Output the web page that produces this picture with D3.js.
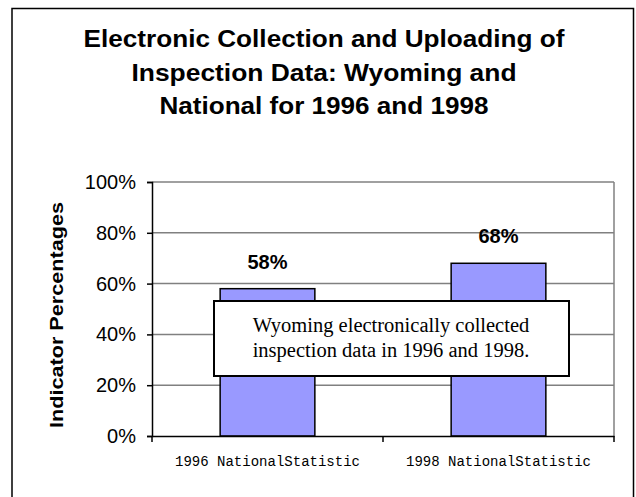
<!DOCTYPE html>
<html>
<head>
<meta charset="utf-8">
<script src="https://d3js.org/d3.v7.min.js"></script>
<style>
  body { margin: 0; background: #fff; }
</style>
</head>
<body>
<div id="chart"></div>
<script>
// data
var categories = ["1996 NationalStatistic", "1998 NationalStatistic"];
var values = [0.58, 0.68];
var valueLabels = ["58%", "68%"];
var yTicks = [0, 0.2, 0.4, 0.6, 0.8, 1.0];
var titleLines = ["Electronic Collection and Uploading of", "Inspection Data: Wyoming and", "National for 1996 and 1998"];
var noteLines = ["Wyoming electronically collected", "inspection data in 1996 and 1998."];

var W = 636, H = 497;
var plot = { left: 152, right: 614, top: 182, bottom: 436 };

var svg = d3.select("#chart").append("svg")
  .attr("width", W).attr("height", H);

svg.append("rect").attr("width", W).attr("height", H).attr("fill", "#fff");

// outer frame (bottom is cut off)
svg.append("path")
  .attr("d", "M12," + H + "V8.5H633.5V" + H)
  .attr("fill", "none").attr("stroke", "#000").attr("stroke-width", 1.5);

// title
var titleW = [481, 385, 329];
svg.append("g").selectAll("text").data(titleLines).enter().append("text")
  .attr("x", 324).attr("y", function(d, i) { return 47 + i * 33.5; })
  .attr("text-anchor", "middle")
  .attr("font-family", "Arial, 'Liberation Sans', sans-serif")
  .attr("font-weight", "bold").attr("font-size", 23)
  .attr("textLength", function(d, i) { return titleW[i]; })
  .attr("lengthAdjust", "spacingAndGlyphs")
  .text(function(d) { return d; });

var x = d3.scaleBand().domain(categories).range([plot.left, plot.right]).paddingInner(0.59).paddingOuter(0.295);
var y = d3.scaleLinear().domain([0, 1]).range([plot.bottom, plot.top]);

// gridlines
svg.append("g").selectAll("line").data(yTicks.filter(function(d) { return d > 0; })).enter().append("line")
  .attr("x1", plot.left).attr("x2", plot.right)
  .attr("y1", function(d) { return y(d); }).attr("y2", function(d) { return y(d); })
  .attr("stroke", "#808080").attr("stroke-width", 1.5);

// right border of plot area
svg.append("line")
  .attr("x1", plot.right).attr("x2", plot.right)
  .attr("y1", plot.top).attr("y2", plot.bottom)
  .attr("stroke", "#808080").attr("stroke-width", 1.5);

// bars
svg.append("g").selectAll("rect").data(values).enter().append("rect")
  .attr("x", function(d, i) { return x(categories[i]); })
  .attr("width", x.bandwidth())
  .attr("y", function(d) { return y(d); })
  .attr("height", function(d) { return y(0) - y(d); })
  .attr("fill", "#9999FF").attr("stroke", "#000").attr("stroke-width", 1.5);

// value labels
svg.append("g").selectAll("text").data(values).enter().append("text")
  .attr("x", function(d, i) { return x(categories[i]) + x.bandwidth() / 2; })
  .attr("y", function(d) { return y(d) - 20; })
  .attr("text-anchor", "middle")
  .attr("font-family", "Arial, 'Liberation Sans', sans-serif")
  .attr("font-weight", "bold").attr("font-size", 20)
  .text(function(d, i) { return valueLabels[i]; });

// y axis
var yAxis = svg.append("g")
  .attr("transform", "translate(" + plot.left + ",0)")
  .call(d3.axisLeft(y).tickValues(yTicks).tickSize(5).tickPadding(11).tickFormat(d3.format(".0%")));
yAxis.select(".domain").attr("stroke", "#000").attr("stroke-width", 1.5);
yAxis.selectAll(".tick line").attr("stroke", "#000").attr("stroke-width", 1.5);
yAxis.selectAll(".tick text")
  .attr("font-family", "Arial, 'Liberation Sans', sans-serif")
  .attr("font-size", 20).attr("fill", "#000");

// x axis
var xAxis = svg.append("g")
  .attr("transform", "translate(0," + plot.bottom + ")")
  .call(d3.axisBottom(x).tickSize(0).tickPadding(20));
xAxis.select(".domain").attr("stroke", "#000").attr("stroke-width", 1.5);
xAxis.selectAll(".tick text")
  .attr("font-family", "'Liberation Mono', monospace")
  .attr("font-size", 14).attr("fill", "#000")
  .attr("textLength", 185).attr("lengthAdjust", "spacingAndGlyphs");

// category separator ticks
var bounds = [plot.left, plot.left + (plot.right - plot.left) / 2, plot.right];
svg.append("g").selectAll("line").data(bounds).enter().append("line")
  .attr("x1", function(d) { return d; }).attr("x2", function(d) { return d; })
  .attr("y1", plot.bottom).attr("y2", plot.bottom + 6)
  .attr("stroke", "#000").attr("stroke-width", 1.5);

// y axis title
svg.append("text")
  .attr("transform", "translate(63,315) rotate(-90)")
  .attr("text-anchor", "middle")
  .attr("font-family", "Arial, 'Liberation Sans', sans-serif")
  .attr("font-weight", "bold").attr("font-size", 18.5)
  .attr("textLength", 226).attr("lengthAdjust", "spacingAndGlyphs")
  .text("Indicator Percentages");

// annotation box
svg.append("rect")
  .attr("x", 214).attr("y", 301).attr("width", 355).attr("height", 75)
  .attr("fill", "#fff").attr("stroke", "#000").attr("stroke-width", 2);
svg.append("g").selectAll("text").data(noteLines).enter().append("text")
  .attr("x", 391).attr("y", function(d, i) { return 332 + i * 25; })
  .attr("text-anchor", "middle")
  .attr("font-family", "'Times New Roman', 'Liberation Serif', serif")
  .attr("font-size", 20.5)
  .text(function(d) { return d; });
</script>
</body>
</html>
